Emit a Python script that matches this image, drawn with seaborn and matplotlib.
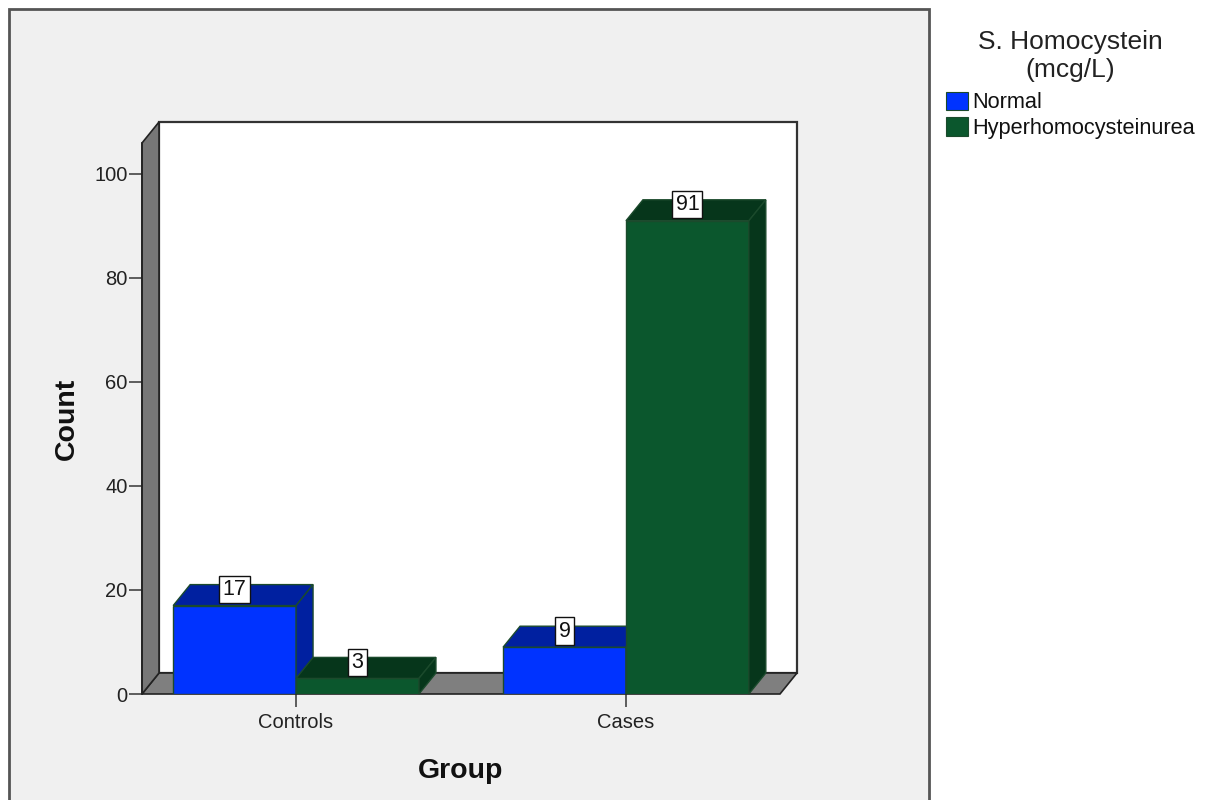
import matplotlib
matplotlib.use("Agg")
import matplotlib.pyplot as plt
from matplotlib.patches import Polygon, Rectangle, Patch
import seaborn as sns
import pandas as pd

# Data
groups = ["Controls", "Cases"]
levels = ["Normal", "Hyperhomocysteinurea"]
normal_counts = [17, 9]
hyper_counts = [3, 91]

front_colors = {"Normal": "#0033ff", "Hyperhomocysteinurea": "#0b572d"}
shade_colors = {"Normal": "#0020a0", "Hyperhomocysteinurea": "#06361b"}

df = pd.DataFrame({
    "Group": groups * 2,
    "Level": [levels[0]] * 2 + [levels[1]] * 2,
    "Count": normal_counts + hyper_counts,
})

sns.set_style("white")
plt.rcParams["font.family"] = ["Liberation Sans", "DejaVu Sans"]

W, H = 1206, 800
fig = plt.figure(figsize=(W / 100, H / 100), dpi=100)
fig.patch.set_facecolor("white")

# Outer chart frame
fig.patches.append(Rectangle((9 / W, -0.05), 920 / W, 1.05 - 9 / H,
                             transform=fig.transFigure, facecolor="#f0f0f0",
                             edgecolor="#555555", linewidth=2, zorder=-1))

ax = fig.add_axes([142 / W, 106 / H, 638 / W, 551 / H])
ax.set_facecolor("none")

sns.barplot(data=df, x="Group", y="Count", hue="Level", order=groups,
            hue_order=levels, palette=front_colors, width=0.745,
            saturation=1, edgecolor="#1b4a2c", linewidth=1.0,
            legend=False, ax=ax)

xmin, xmax = -0.467, 1.467
ymin, ymax = 0, 105.96
ax.set_xlim(xmin, xmax)
ax.set_ylim(ymin, ymax)

# depth of the pseudo-3D projection, converted from pixels into data units
depth_px = (17, 21)
ax_w_px = 638
ax_h_px = 551
dx = depth_px[0] * (xmax - xmin) / ax_w_px
dy = depth_px[1] * (ymax - ymin) / ax_h_px

# Back wall, floor and left wall
ax.add_patch(Rectangle((xmin + dx, ymin + dy), xmax - xmin, ymax - ymin,
                       facecolor="white", edgecolor="#333333", linewidth=1.6,
                       zorder=0.5, clip_on=False))
ax.add_patch(Polygon([(xmin, 0), (xmax, 0), (xmax + dx, dy), (xmin + dx, dy)],
                     closed=True, facecolor="#7f7f7f", edgecolor="#222222",
                     linewidth=1.2, zorder=0.6, clip_on=False))
ax.add_patch(Polygon([(xmin, 0), (xmin, ymax), (xmin + dx, ymax + dy), (xmin + dx, dy)],
                     closed=True, facecolor="#777777", edgecolor="#222222",
                     linewidth=1.2, zorder=0.6, clip_on=False))

# Top and side faces for each bar, drawn left to right
bars = sorted([p for p in ax.patches if isinstance(p, Rectangle) and p.get_height() > 0
               and p.get_width() < 1], key=lambda p: p.get_x())
for i, bar in enumerate(bars):
    x0 = bar.get_x()
    x1 = x0 + bar.get_width()
    h = bar.get_height()
    fc = bar.get_facecolor()
    lvl = levels[0] if fc[2] > 0.5 else levels[1]
    shade = shade_colors[lvl]
    z = 3 + i
    bar.set_zorder(z)
    top = Polygon([(x0, h), (x1, h), (x1 + dx, h + dy), (x0 + dx, h + dy)],
                  closed=True, facecolor=shade, edgecolor="#1b4a2c",
                  linewidth=1.0, zorder=z + 0.5, clip_on=False)
    side = Polygon([(x1, 0), (x1, h), (x1 + dx, h + dy), (x1 + dx, dy)],
                   closed=True, facecolor=shade, edgecolor="#1b4a2c",
                   linewidth=1.0, zorder=z + 0.5, clip_on=False)
    ax.add_patch(top)
    ax.add_patch(side)
    ax.text((x0 + x1) / 2, h + 0.77 * dy, f"{h:g}", ha="center", va="center",
            fontsize=15.5, color="#111111", zorder=20, clip_on=False,
            bbox=dict(boxstyle="square,pad=0.15", facecolor="white",
                      edgecolor="#111111", linewidth=1.0))

# Axes styling
for s in ["top", "right", "bottom"]:
    ax.spines[s].set_visible(False)
ax.spines["left"].set_color("#222222")
ax.spines["left"].set_linewidth(1.2)
ax.spines["left"].set_zorder(1)
ax.set_yticks([0, 20, 40, 60, 80, 100])
ax.tick_params(axis="y", direction="out", length=9.5, width=1.2, color="#444444",
               pad=1, labelsize=14.5, labelcolor="#222222", left=True)
ax.tick_params(axis="x", direction="out", length=9.5, width=1.2, color="#444444",
               pad=4, labelsize=14.5, labelcolor="#222222", bottom=True)

ax.set_xlabel("Group", fontsize=20.5, fontweight="bold", color="#111111", labelpad=19)
ax.set_ylabel("Count", fontsize=20.5, fontweight="bold", color="#111111", labelpad=10)

# Legend
handles = [Patch(facecolor=front_colors[l], edgecolor="#1b4a2c", linewidth=0.8) for l in levels]
leg = fig.legend(handles, levels, title="S. Homocystein\n(mcg/L)",
                 loc="upper left", bbox_to_anchor=(946 / W, 1 - 30 / H),
                 frameon=False, fontsize=15.7, title_fontsize=19,
                 handlelength=1.0, handleheight=0.9, handletextpad=0.2,
                 labelspacing=0.2, borderaxespad=0, borderpad=0)
leg.get_title().set_multialignment("center")
leg._legend_box.sep = 7
for t in leg.get_texts():
    t.set_color("#111111")
leg.get_title().set_color("#222222")

fig.savefig("out.png", dpi=100)
